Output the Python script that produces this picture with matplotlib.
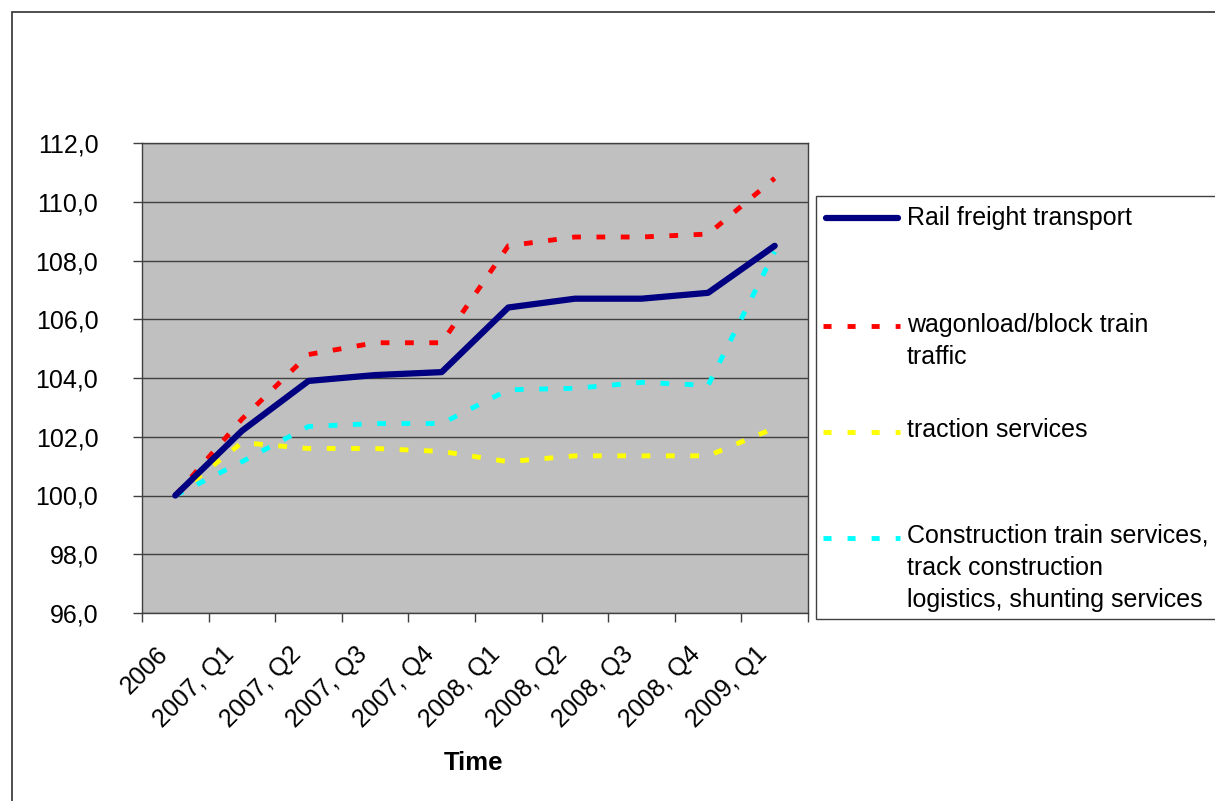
import matplotlib
matplotlib.use("Agg")
import matplotlib.pyplot as plt
from matplotlib.lines import Line2D
from matplotlib.patches import Rectangle
from matplotlib.ticker import FuncFormatter, FixedLocator
from matplotlib.transforms import ScaledTranslation

plt.rcParams['font.family'] = ['Liberation Sans', 'DejaVu Sans']

periods = ["2006", "2007, Q1", "2007, Q2", "2007, Q3", "2007, Q4",
           "2008, Q1", "2008, Q2", "2008, Q3", "2008, Q4", "2009, Q1"]
rail_freight = [100.0, 102.2, 103.9, 104.1, 104.2, 106.4, 106.7, 106.7, 106.9, 108.5]
wagonload = [100.0, 102.6, 104.8, 105.2, 105.2, 108.5, 108.8, 108.8, 108.9, 110.8]
traction = [100.0, 101.8, 101.6, 101.6, 101.5, 101.15, 101.35, 101.35, 101.35, 102.3]
construction = [100.0, 101.15, 102.35, 102.45, 102.45, 103.6, 103.65, 103.85, 103.75, 108.3]

series_labels = ["Rail freight transport",
                 "wagonload/block train\ntraffic",
                 "traction services",
                 "Construction train services,\ntrack construction\nlogistics, shunting services"]
colors = ["#000080", "#FF0000", "#FFFF00", "#00FFFF"]

W, H = 1215, 801
FS = 18
fig = plt.figure(figsize=(W / 100, H / 100), dpi=100)

def fx(px):
    return px / W

def fy(py):
    return (H - py) / H

# outer chart border
fig.patches.append(Rectangle((fx(12), -0.01), 1.1, fy(12) + 0.01, transform=fig.transFigure,
                             fill=False, edgecolor="#303030", linewidth=1.2))

ax = fig.add_axes([fx(142), fy(613), fx(808) - fx(142), fy(143) - fy(613)])
ax.set_facecolor("#C0C0C0")

x = list(range(len(periods)))
dash = (1.8, 3.2)
ax.plot(x, wagonload, color=colors[1], lw=3.5, dashes=dash)
ax.plot(x, traction, color=colors[2], lw=3.5, dashes=dash)
ax.plot(x, construction, color=colors[3], lw=3.5, dashes=dash)
ax.plot(x, rail_freight, color=colors[0], lw=4.5, solid_capstyle="round", solid_joinstyle="round")

ax.set_xlim(-0.5, len(periods) - 0.5)
ax.set_ylim(96, 112)
ax.set_yticks([96 + 2 * i for i in range(9)])
ax.yaxis.set_major_formatter(FuncFormatter(lambda v, p: ("%.1f" % v).replace(".", ",")))
ax.yaxis.grid(True, color="#404040", linewidth=1.0)
ax.set_axisbelow(True)

ax.set_xticks(x)
ax.set_xticklabels(periods, rotation=45, ha="right", rotation_mode="anchor", fontsize=FS)
ax.tick_params(axis="x", which="major", length=0, pad=0)
shift = ScaledTranslation(-0.20, -0.29, fig.dpi_scale_trans)
for lbl in ax.get_xticklabels():
    lbl.set_transform(lbl.get_transform() + shift)
ax.xaxis.set_minor_locator(FixedLocator([i - 0.5 for i in range(len(periods) + 1)]))
ax.tick_params(axis="x", which="minor", length=6.5, width=1.0, direction="out", color="#404040")
ax.tick_params(axis="y", length=6.5, width=1.0, direction="out", color="#404040", labelsize=FS, pad=25)
for s in ax.spines.values():
    s.set_color("#404040")
    s.set_linewidth(1.0)

fig.text(fx(473), fy(770), "Time", fontsize=18.5, fontweight="bold", ha="center", va="baseline")

# legend drawn by hand to match the spacing of the original
fig.patches.append(Rectangle((fx(816), fy(619)), 0.5, fy(196) - fy(619), transform=fig.transFigure,
                             facecolor="white", edgecolor="#404040", linewidth=1.0))
line_y = [218, 326, 432, 538]
text_baselines = [225, 332, 437, 543]
for lab, col, ly, tb in zip(series_labels, colors, line_y, text_baselines):
    if col == colors[0]:
        ln = Line2D([fx(826), fx(898)], [fy(ly), fy(ly)], transform=fig.transFigure, color=col,
                    lw=4.5, solid_capstyle="round")
    else:
        ln = Line2D([fx(823), fx(900)], [fy(ly), fy(ly)], transform=fig.transFigure, color=col,
                    lw=3.5, dashes=(1.65, 3.3))
    fig.lines.append(ln)
    for k, part in enumerate(lab.split("\n")):
        fig.text(fx(907), fy(tb + 32 * k), part, fontsize=FS, ha="left", va="baseline")

fig.savefig("out.png", dpi=100)
